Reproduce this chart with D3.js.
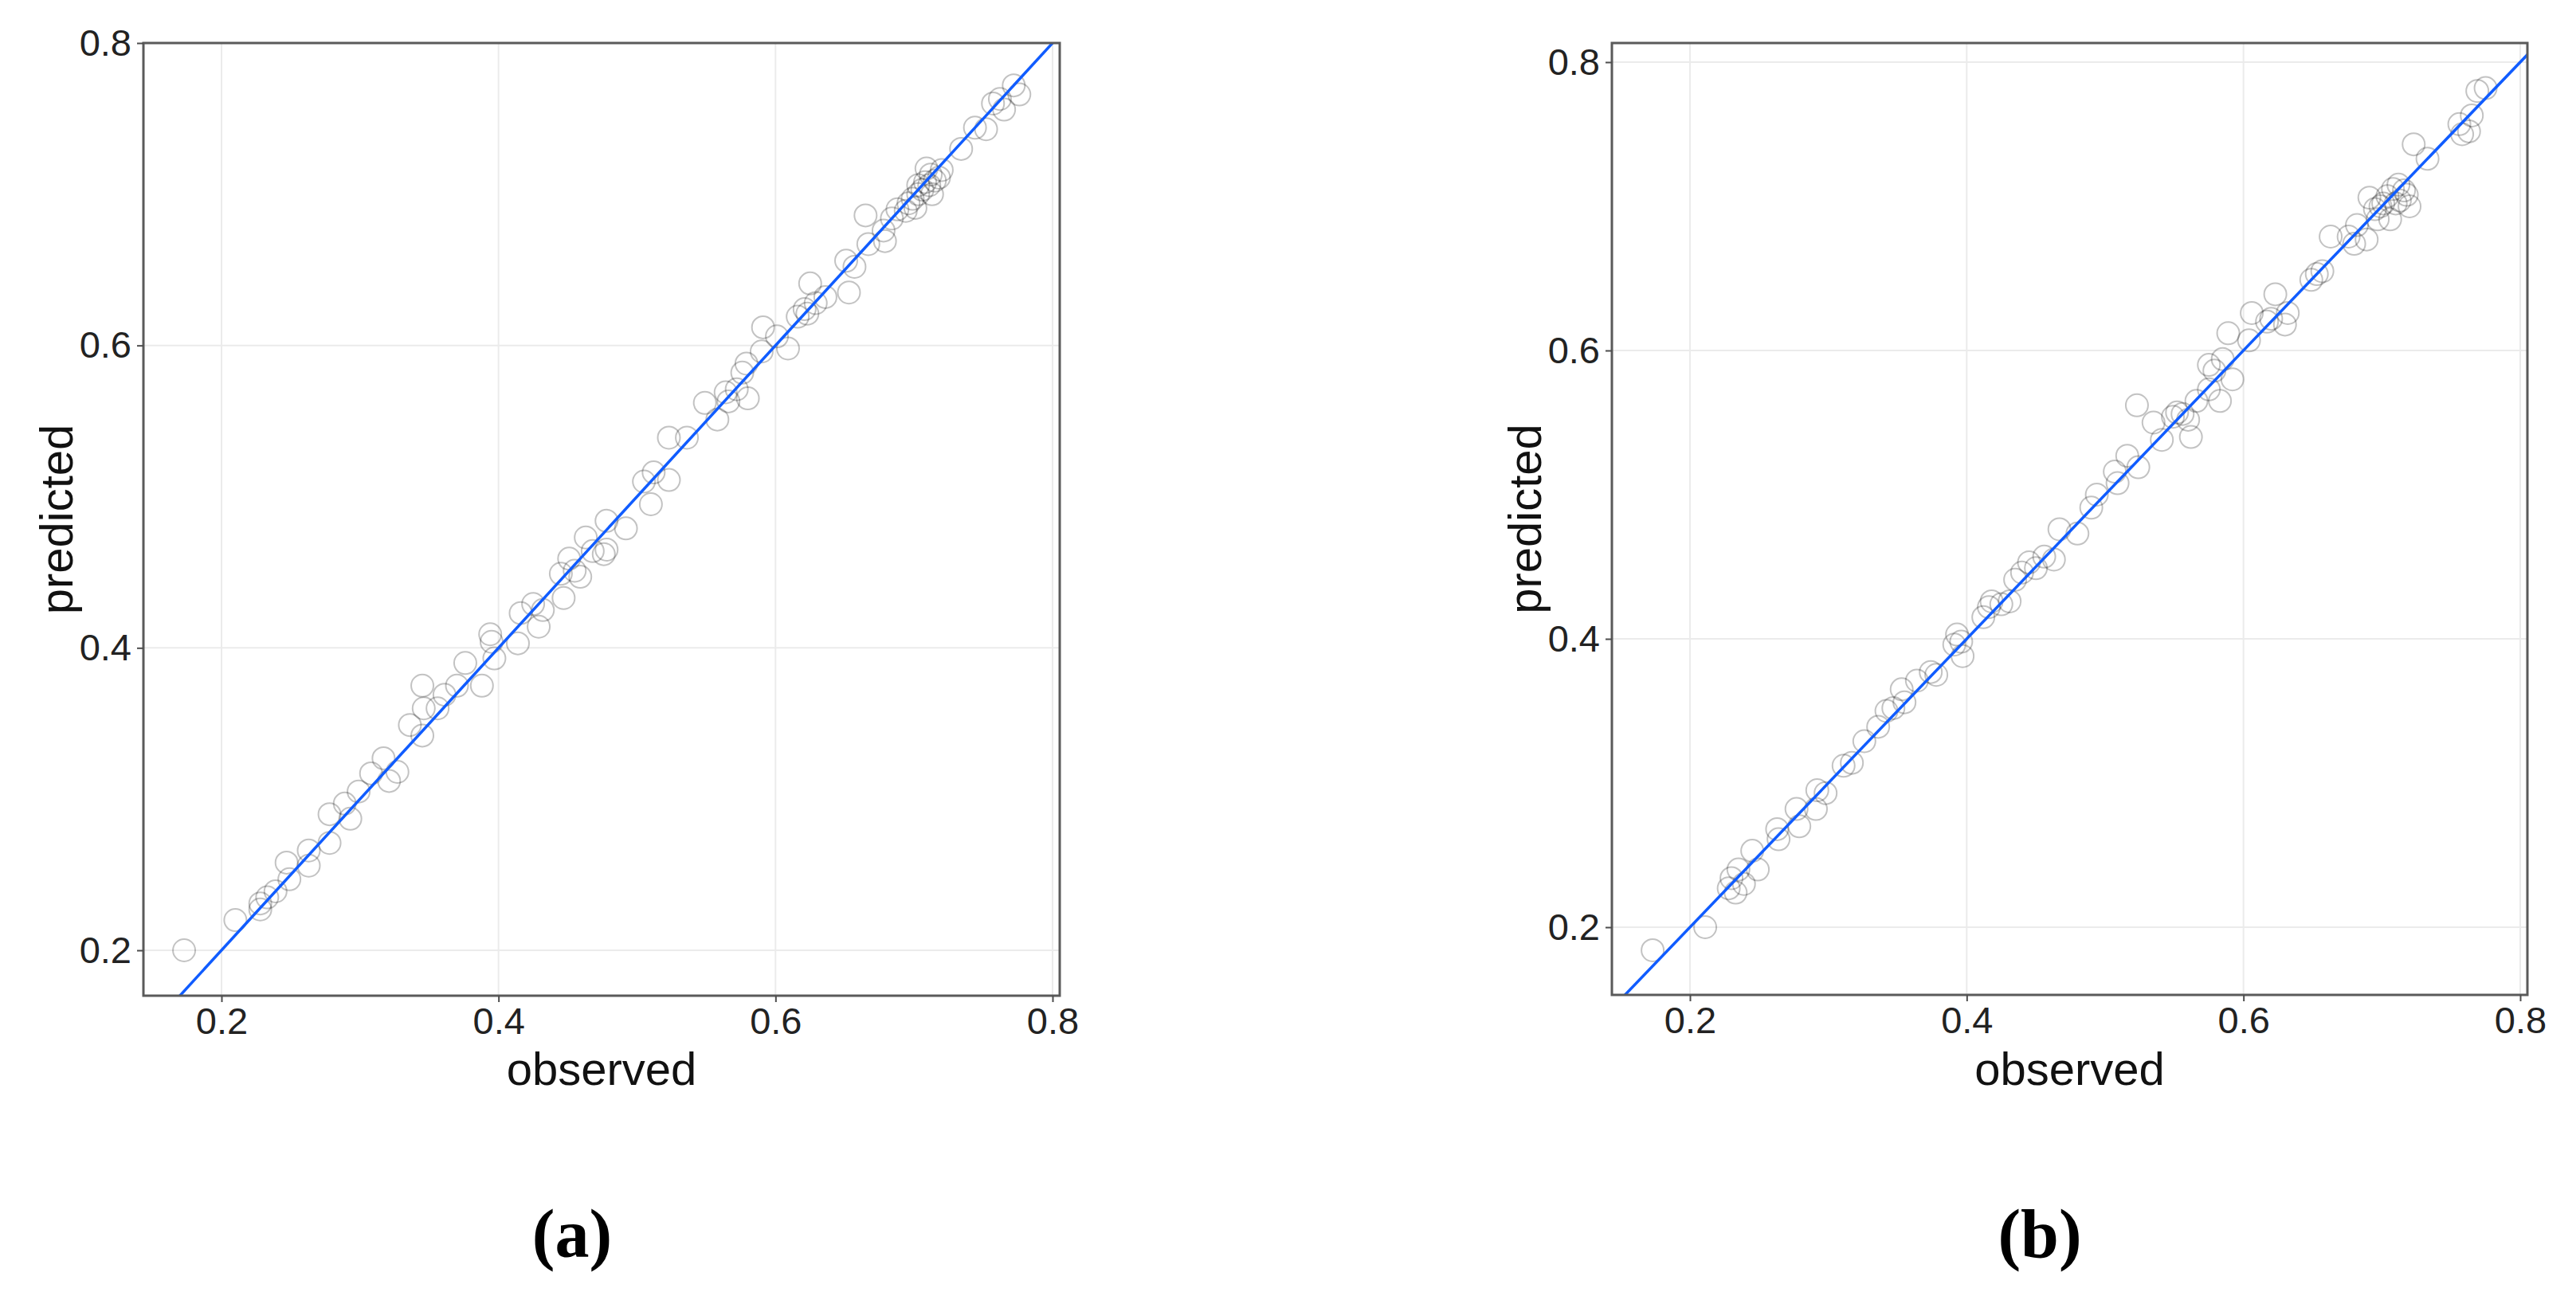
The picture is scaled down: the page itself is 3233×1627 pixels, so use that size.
<!DOCTYPE html>
<html>
<head>
  <title>observed vs predicted</title>
  <meta charset="utf-8" />
  <script src="https://d3js.org/d3.v7.min.js"></script>
  <style>
    body{ margin:0; background:#fff; }
    .tick text{ font-family:"Liberation Sans", Arial, sans-serif; font-size:47px; fill:#222; }
    .axisTitle{ font-family:"Liberation Sans", Arial, sans-serif; font-size:58px; fill:#111; }
    .panelLabel{ font-family:"Liberation Serif", "Times New Roman", serif; font-size:86px; font-weight:bold; fill:#000; }
  </style>
</head>
<body>
  <script>
  //values, panel (a)
  var obsA  = [0.173,0.210,0.228,0.228,0.233,0.239,0.247,0.249,0.263,0.263,0.278,0.278,0.289,0.293,0.299,0.308,0.317,0.321,0.327,0.336,
               0.345,0.346,0.345,0.356,0.361,0.370,0.376,0.388,0.394,0.395,0.397,0.414,0.416,0.425,0.429,0.432,0.445,0.447,0.451,0.459,
               0.463,0.468,0.476,0.478,0.478,0.492,0.505,0.512,0.523,0.510,0.523,0.536,0.549,0.558,0.564,0.572,0.580,0.576,0.579,0.590,
               0.591,0.601,0.609,0.616,0.623,0.629,0.625,0.636,0.651,0.657,0.653,0.665,0.667,0.678,0.679,0.684,0.694,0.696,0.703,0.708,
               0.712,0.718,0.720,0.709,0.703,0.701,0.713,0.734,0.744,0.752,0.757,0.762,0.765,0.772,0.776,
               0.706,0.711,0.715,0.699,0.688,0.566,0.455,0.621];
  var predA = [0.200,0.220,0.231,0.227,0.235,0.239,0.258,0.247,0.266,0.256,0.271,0.290,0.297,0.287,0.305,0.317,0.327,0.312,0.318,0.349,
               0.375,0.360,0.342,0.360,0.369,0.375,0.390,0.375,0.409,0.404,0.393,0.403,0.423,0.429,0.414,0.425,0.449,0.433,0.459,0.447,
               0.473,0.464,0.462,0.484,0.465,0.479,0.510,0.516,0.511,0.495,0.539,0.539,0.562,0.551,0.569,0.571,0.565,0.582,0.588,0.596,
               0.612,0.606,0.598,0.619,0.621,0.628,0.641,0.632,0.656,0.652,0.635,0.686,0.667,0.676,0.669,0.684,0.689,0.694,0.700,0.708,
               0.713,0.711,0.716,0.717,0.706,0.691,0.700,0.730,0.744,0.743,0.760,0.763,0.756,0.772,0.766,
               0.703,0.706,0.709,0.697,0.690,0.563,0.451,0.624];
  //values, panel (b)
  var obsB  = [0.173,0.211,0.228,0.230,0.235,0.233,0.249,0.245,0.239,0.263,0.264,0.279,0.277,0.292,0.298,0.291,0.311,0.317,0.326,0.336,
               0.342,0.347,0.355,0.353,0.364,0.374,0.378,0.393,0.396,0.397,0.391,0.412,0.418,0.425,0.431,0.416,0.435,0.445,0.450,0.456,
               0.463,0.467,0.480,0.494,0.490,0.507,0.516,0.524,0.509,0.523,0.535,0.541,0.549,0.556,0.562,0.560,0.566,0.575,0.579,0.575,
               0.585,0.592,0.583,0.589,0.604,0.606,0.617,0.623,0.630,0.632,0.649,0.653,0.657,0.663,0.676,0.680,0.682,0.691,0.695,0.701,
               0.708,0.712,0.710,0.718,0.720,0.706,0.697,0.689,0.723,0.733,0.756,0.765,0.763,0.758,0.769,0.775,
               0.704,0.713,0.699,0.716,0.552,0.620,0.440];
  var predB = [0.184,0.200,0.227,0.234,0.240,0.224,0.240,0.253,0.230,0.268,0.261,0.270,0.282,0.295,0.293,0.282,0.312,0.314,0.329,0.339,
               0.350,0.352,0.356,0.365,0.371,0.377,0.375,0.403,0.398,0.388,0.396,0.415,0.426,0.424,0.426,0.422,0.441,0.453,0.449,0.457,
               0.455,0.476,0.473,0.500,0.491,0.516,0.527,0.519,0.508,0.562,0.550,0.538,0.554,0.556,0.540,0.552,0.565,0.573,0.586,0.590,
               0.594,0.580,0.565,0.612,0.607,0.626,0.620,0.639,0.618,0.626,0.649,0.653,0.655,0.679,0.679,0.674,0.687,0.706,0.698,0.702,
               0.712,0.715,0.702,0.708,0.700,0.691,0.691,0.677,0.743,0.733,0.757,0.763,0.752,0.750,0.780,0.782,
               0.707,0.704,0.700,0.711,0.557,0.622,0.446];

  var tickVals = [0.2,0.4,0.6,0.8];
  var xTitle = 'observed', yTitle = 'predicted';
  var panelNames = ['(a)','(b)'];

  var W = 3233, H = 1627;
  var svg = d3.select('body').append('svg')
    .attr('width',W).attr('height',H);
  svg.append('rect').attr('width',W).attr('height',H).attr('fill','#fff');

  //one description per panel: where it sits and what it shows
  var panels = [
    {id:'a', obs:obsA, pred:predA, left:180,  right:1330, top:54, bottom:1250,
     xDom:[0.14363,0.80518], yDom:[0.16997,0.8],     yTitleX:91,   labelX:718},
    {id:'b', obs:obsB, pred:predB, left:2023, right:3172, top:54, bottom:1249,
     xDom:[0.14357,0.80518], yDom:[0.15304,0.81326], yTitleX:1934, labelX:2560}
  ];

  panels.forEach(drawPanel);

  function drawPanel(p, i){
    var x = d3.scaleLinear().domain(p.xDom).range([p.left,p.right]);
    var y = d3.scaleLinear().domain(p.yDom).range([p.bottom,p.top]);
    var g = svg.append('g');

    //clip for everything that lives inside the panel
    svg.append('clipPath').attr('id','clip'+p.id)
      .append('rect').attr('x',p.left).attr('y',p.top)
      .attr('width',p.right-p.left).attr('height',p.bottom-p.top);

    //grid lines
    g.selectAll('.vgrid').data(tickVals).enter().append('line')
      .attr('x1',x).attr('x2',x).attr('y1',p.top).attr('y2',p.bottom)
      .attr('stroke','#ebebeb').attr('stroke-width',2);
    g.selectAll('.hgrid').data(tickVals.filter(function(d){return y(d)>p.top+1;})).enter().append('line')
      .attr('x1',p.left).attr('x2',p.right).attr('y1',y).attr('y2',y)
      .attr('stroke','#ebebeb').attr('stroke-width',2);

    //points
    var pts = p.obs.map(function(d,k){return [d,p.pred[k]];});
    g.append('g').attr('clip-path','url(#clip'+p.id+')')
      .selectAll('circle').data(pts).enter().append('circle')
      .attr('cx',function(d){return x(d[0]);})
      .attr('cy',function(d){return y(d[1]);})
      .attr('r',14)
      .attr('fill','none')
      .attr('stroke','#000')
      .attr('stroke-opacity',0.24)
      .attr('stroke-width',2);

    //y = x reference line
    var lo = Math.min(p.xDom[0],p.yDom[0]), hi = Math.max(p.xDom[1],p.yDom[1]);
    g.append('line').attr('clip-path','url(#clip'+p.id+')')
      .attr('x1',x(lo)).attr('y1',y(lo)).attr('x2',x(hi)).attr('y2',y(hi))
      .attr('stroke','#105cff').attr('stroke-width',3.5);

    //panel frame
    g.append('rect').attr('x',p.left).attr('y',p.top)
      .attr('width',p.right-p.left).attr('height',p.bottom-p.top)
      .attr('fill','none').attr('stroke','#5a5a5a').attr('stroke-width',3);

    //axes
    var xa = svg.append('g').attr('transform','translate(0,'+p.bottom+')')
      .call(d3.axisBottom(x).tickValues(tickVals).tickFormat(d3.format('.1f')).tickSize(8).tickPadding(7));
    var ya = svg.append('g').attr('transform','translate('+p.left+',0)')
      .call(d3.axisLeft(y).tickValues(tickVals).tickFormat(d3.format('.1f')).tickSize(8).tickPadding(7));
    [xa,ya].forEach(function(a){
      a.select('.domain').remove();
      a.selectAll('.tick line').attr('stroke','#4d4d4d').attr('stroke-width',2);
    });

    //titles
    svg.append('text').attr('class','axisTitle')
      .attr('x',(p.left+p.right)/2).attr('y',1362)
      .attr('text-anchor','middle').text(xTitle);
    svg.append('text').attr('class','axisTitle')
      .attr('transform','translate('+p.yTitleX+','+((p.top+p.bottom)/2)+') rotate(-90)')
      .attr('text-anchor','middle').text(yTitle);

    svg.append('text').attr('class','panelLabel')
      .attr('x',p.labelX).attr('y',1578)
      .attr('text-anchor','middle').text(panelNames[i]);
  }
  </script>
</body>
</html>
